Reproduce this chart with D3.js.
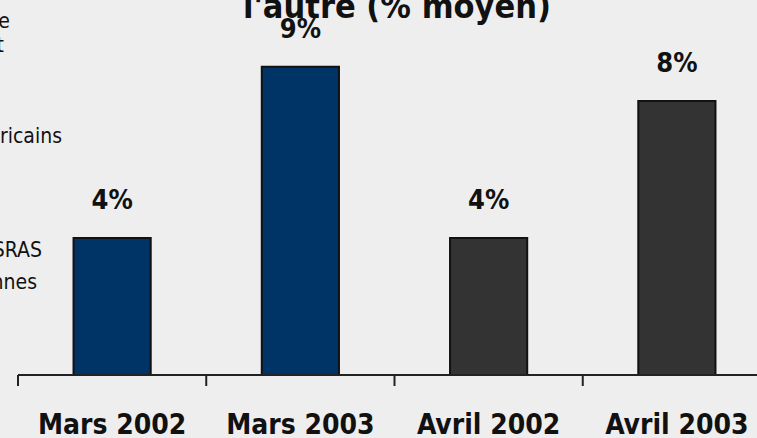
<!DOCTYPE html>
<html>
<head>
<meta charset="utf-8">
<script src="https://cdn.jsdelivr.net/npm/d3@7"></script>
<style>
  html, body { margin: 0; padding: 0; background: #eeeeee; }
  svg { display: block; }
</style>
</head>
<body>
<script>
// Chart data
const categories = ["Mars 2002", "Mars 2003", "Avril 2002", "Avril 2003"];
const values = [4, 9, 4, 8];
const valueLabels = ["4%", "9%", "4%", "8%"];
const barColors = ["#003366", "#003366", "#333333", "#333333"];
const titleText = "l'autre (% moyen)";
const sideNotes = ["e", "t", "Américains", "SRAS", "Personnes"];

const W = 757, H = 438;
const baseY = 375;
const font = "'DejaVu Sans Condensed', 'DejaVu Sans', sans-serif";

const svg = d3.select("body").append("svg")
  .attr("width", W).attr("height", H);

svg.append("rect").attr("width", W).attr("height", H).attr("fill", "#eeeeee");

const x = d3.scaleBand()
  .domain(categories)
  .range([18, 771])
  .paddingInner(0.59)
  .paddingOuter(0.295);

const y = d3.scaleLinear().domain([0, 10]).range([baseY, 32.5]);

// Title (last line of a wrapped heading)
svg.append("text")
  .attr("x", 397).attr("y", 18)
  .attr("text-anchor", "middle")
  .attr("font-family", font)
  .attr("font-weight", "bold")
  .attr("font-size", 34)
  .attr("fill", "#111")
  .text(titleText);

// Side notes running off the left edge
const noteEnds = [10, 4, 62, 42, 37];
const noteBase = [28, 52, 143, 257, 289];
svg.append("g").selectAll("text")
  .data(sideNotes)
  .join("text")
  .attr("x", (d, i) => noteEnds[i])
  .attr("y", (d, i) => noteBase[i])
  .attr("text-anchor", "end")
  .attr("font-family", font)
  .attr("font-size", 21)
  .attr("fill", "#111")
  .text(d => d);

// Bars
svg.append("g").selectAll("rect")
  .data(values)
  .join("rect")
  .attr("x", (d, i) => x(categories[i]))
  .attr("y", d => y(d))
  .attr("width", x.bandwidth())
  .attr("height", d => baseY - y(d))
  .attr("fill", (d, i) => barColors[i])
  .attr("stroke", "#111")
  .attr("stroke-width", 2);

// Value labels
svg.append("g").selectAll("text")
  .data(values)
  .join("text")
  .attr("x", (d, i) => x(categories[i]) + x.bandwidth() / 2)
  .attr("y", d => y(d) - 29)
  .attr("text-anchor", "middle")
  .attr("font-family", font)
  .attr("font-weight", "bold")
  .attr("font-size", 27)
  .attr("fill", "#111")
  .text((d, i) => valueLabels[i]);

// Category axis with ticks at band boundaries
const axisG = svg.append("g").attr("transform", `translate(0,${baseY})`);
const [r0, r1] = x.range();
axisG.append("line")
  .attr("x1", r0).attr("x2", r1)
  .attr("stroke", "#222").attr("stroke-width", 2);
const boundaries = categories.map(c => x(c) - x.step() * x.paddingInner() / 2);
boundaries[0] = r0;
axisG.selectAll("line.tick")
  .data(boundaries)
  .join("line")
  .attr("class", "tick")
  .attr("x1", d => d).attr("x2", d => d)
  .attr("y1", 0).attr("y2", 11)
  .attr("stroke", "#222").attr("stroke-width", 2);

axisG.selectAll("text")
  .data(categories)
  .join("text")
  .attr("x", d => x(d) + x.bandwidth() / 2)
  .attr("y", 59)
  .attr("text-anchor", "middle")
  .attr("font-family", font)
  .attr("font-weight", "bold")
  .attr("font-size", 28)
  .attr("fill", "#111")
  .text(d => d);
</script>
</body>
</html>
